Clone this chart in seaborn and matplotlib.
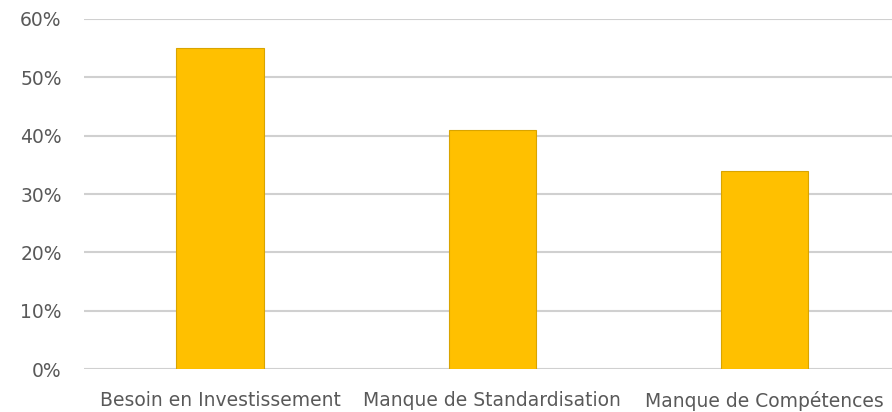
import pandas as pd
import matplotlib
matplotlib.use('Agg')
import matplotlib.pyplot as plt
import seaborn as sns
from matplotlib.ticker import PercentFormatter

categories = ['Besoin en Investissement', 'Manque de Standardisation', 'Manque de Compétences']
values = [0.55, 0.41, 0.34]
yticks = [0, 0.1, 0.2, 0.3, 0.4, 0.5, 0.6]

df = pd.DataFrame({'Catégorie': categories, 'Part': values})

sns.set_theme(style='white')
plt.rcParams['font.family'] = ['DejaVu Sans']

fig = plt.figure(figsize=(8.92, 4.12), dpi=100)
ax = fig.add_axes([0.094, 0.104, 0.916, 0.850])

sns.barplot(data=df, x='Catégorie', y='Part', color='#FFC000', width=0.32,
            edgecolor='#D9A400', linewidth=0.8, saturation=1, ax=ax, zorder=3)

ax.set_ylim(0, 0.6)
ax.set_xlim(-0.5, 2.5)
ax.set_yticks(yticks)
ax.yaxis.set_major_formatter(PercentFormatter(1.0, decimals=0))
ax.grid(axis='y', color='#D0D0D0', linewidth=1.5, zorder=0)
ax.set_axisbelow(True)
for s in ax.spines.values():
    s.set_visible(False)
ax.set_xlabel('')
ax.set_ylabel('')
ax.tick_params(axis='both', length=0, labelsize=13.5, colors='#595959')
ax.tick_params(axis='y', pad=16)
ax.tick_params(axis='x', pad=16)

fig.savefig('out.png', dpi=100)
